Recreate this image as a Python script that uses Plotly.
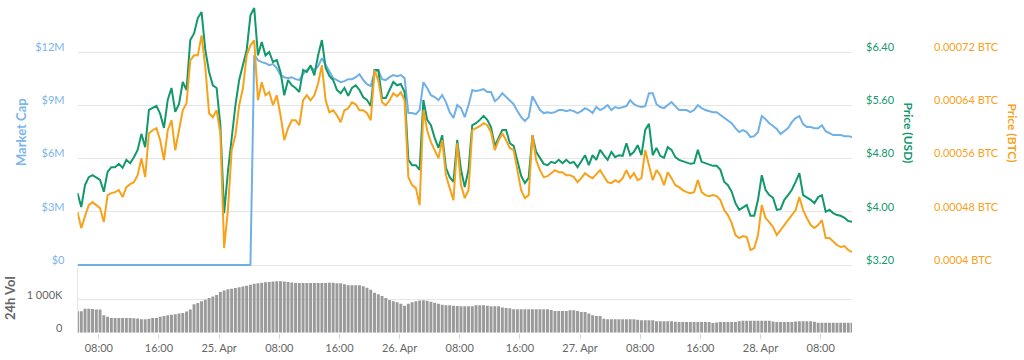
import pandas as pd
import plotly.graph_objects as go

# ---------------- data ----------------
start_time = "2018-04-24 05:10"
n_points = 207
step = "30min"

price_usd = [
    4.28, 4.07, 4.40, 4.52, 4.55, 4.52, 4.48, 4.30, 4.60, 4.67,
    4.67, 4.72, 4.66, 4.78, 4.73, 4.82, 4.93, 5.17, 4.97, 5.53,
    5.56, 5.59, 5.47, 5.26, 5.68, 5.86, 5.50, 5.62, 5.95, 5.83,
    6.58, 6.68, 6.91, 7.00, 6.43, 6.10, 5.90, 5.86, 5.30, 3.98,
    4.60, 5.08, 5.60, 5.98, 6.20, 6.43, 6.95, 7.06, 6.35, 6.55,
    6.35, 6.40, 6.25, 6.28, 6.10, 5.75, 5.98, 5.90, 5.86, 5.80,
    6.13, 6.10, 6.20, 6.05, 6.35, 6.58, 6.16, 6.04, 5.98, 5.83,
    5.78, 5.86, 5.74, 5.86, 5.90, 5.83, 5.72, 5.68, 5.59, 6.13,
    6.13, 5.71, 5.71, 5.83, 5.95, 5.90, 5.92, 5.80, 4.78, 4.70,
    4.70, 4.63, 5.68, 5.38, 5.30, 5.11, 4.96, 5.15, 4.66, 4.52,
    4.45, 5.08, 4.63, 4.37, 4.63, 5.30, 5.33, 5.38, 5.44, 5.38,
    5.27, 4.99, 5.11, 5.23, 5.23, 5.03, 4.99, 4.78, 4.54, 4.43,
    4.51, 5.15, 4.90, 4.81, 4.72, 4.70, 4.75, 4.73, 4.78, 4.73,
    4.78, 4.73, 4.75, 4.67, 4.76, 4.85, 4.70, 4.85, 4.78, 4.93,
    4.85, 4.78, 4.90, 4.82, 4.85, 4.84, 5.03, 4.85, 4.90, 5.00,
    4.85, 5.23, 5.32, 4.85, 4.96, 4.84, 4.81, 4.97, 4.93, 4.82,
    4.78, 4.76, 4.73, 4.72, 4.73, 4.93, 4.75, 4.73, 4.70, 4.69,
    4.69, 4.63, 4.45, 4.40, 4.30, 4.13, 4.03, 4.07, 4.10, 3.94,
    3.94, 4.18, 4.55, 4.33, 4.25, 4.21, 4.03, 4.04, 4.18, 4.25,
    4.33, 4.45, 4.58, 4.25, 4.22, 4.18, 4.13, 4.22, 4.25, 4.00,
    4.03, 3.98, 3.95, 3.94, 3.91, 3.86, 3.85,
]

price_btc = [
    0.0004795, 0.0004555, 0.0004735, 0.00049, 0.0004945, 0.00049, 0.0004855, 0.0004645, 0.000505, 0.000508,
    0.0005095, 0.0005125, 0.000502, 0.000517, 0.0005215, 0.0005245, 0.000535, 0.0005605, 0.000532, 0.000598,
    0.0006025, 0.0006055, 0.0005875, 0.0005575, 0.0006025, 0.0006175, 0.0005725, 0.0006025, 0.0006325, 0.000643,
    0.0007075, 0.000715, 0.000715, 0.000745, 0.000697, 0.000628, 0.000622, 0.0006325, 0.000598, 0.0004255,
    0.0004825, 0.0005725, 0.000595, 0.00064, 0.0006655, 0.000715, 0.00073, 0.0007375, 0.0006475, 0.0006745,
    0.000655, 0.0006595, 0.00064, 0.000655, 0.000625, 0.0005875, 0.0006055, 0.0006175, 0.0006175, 0.00061,
    0.0006475, 0.000655, 0.0006475, 0.000655, 0.000673, 0.0007, 0.0006475, 0.0006295, 0.0006325, 0.000625,
    0.0006145, 0.0006325, 0.0006355, 0.0006445, 0.0006415, 0.0006325, 0.0006325, 0.000628, 0.0006175, 0.0006925,
    0.0006775, 0.0006445, 0.00064, 0.0006475, 0.000658, 0.0006535, 0.0006595, 0.0006475, 0.000532, 0.00052,
    0.0005155, 0.00049, 0.0006325, 0.0006025, 0.0005845, 0.0005725, 0.0005605, 0.0005875, 0.000535, 0.0005155,
    0.0004975, 0.000583, 0.00052, 0.0005005, 0.0005125, 0.0006025, 0.0006055, 0.0006085, 0.000613, 0.00061,
    0.0005995, 0.0005725, 0.0005875, 0.000598, 0.0005875, 0.0005755, 0.0005725, 0.0005425, 0.0005125, 0.0005005,
    0.000505, 0.000595, 0.0005575, 0.0005425, 0.000532, 0.0005335, 0.000538, 0.0005425, 0.0005395, 0.0005395,
    0.000535, 0.000535, 0.000532, 0.0005245, 0.0005305, 0.000538, 0.0005335, 0.0005305, 0.0005365, 0.0005425,
    0.0005335, 0.0005245, 0.000523, 0.0005275, 0.0005245, 0.0005305, 0.0005425, 0.0005305, 0.000538, 0.0005275,
    0.0005305, 0.0005725, 0.00055, 0.0005275, 0.0005425, 0.000535, 0.00052, 0.0005395, 0.0005305, 0.00052,
    0.000517, 0.0005125, 0.0005095, 0.000508, 0.0005095, 0.0005275, 0.0005095, 0.000505, 0.0005035, 0.000505,
    0.0005035, 0.0004975, 0.0004825, 0.000475, 0.000463, 0.000445, 0.0004405, 0.0004435, 0.000442, 0.0004225,
    0.0004255, 0.000445, 0.00049, 0.0004705, 0.0004645, 0.000457, 0.000445, 0.0004525, 0.00046, 0.0004675,
    0.000475, 0.0004825, 0.000502, 0.0004825, 0.0004705, 0.00046, 0.0004555, 0.00046, 0.0004675, 0.0004405,
    0.0004405, 0.0004345, 0.00043, 0.000427, 0.0004285, 0.0004225, 0.0004195,
]

market_cap_musd = [0.0] * 47 + [
    11.82, 11.54, 11.43, 11.37, 11.26, 11.32, 11.09, 10.70, 10.58, 10.53,
    10.58, 10.47, 10.42, 10.75, 10.98, 11.15, 10.98, 11.20, 11.65, 11.26,
    10.87, 10.53, 10.42, 10.30, 10.36, 10.47, 10.47, 10.58, 10.75, 10.42,
    10.19, 10.08, 10.87, 10.98, 10.47, 10.42, 10.58, 10.70, 10.64, 10.70,
    10.53, 8.56, 8.56, 8.50, 8.73, 10.30, 9.97, 9.57, 9.46, 9.29,
    9.57, 9.18, 8.61, 8.28, 9.01, 8.84, 8.33, 9.01, 9.85, 9.80,
    9.85, 9.91, 9.74, 9.74, 9.23, 9.40, 9.68, 9.46, 9.23, 9.06,
    8.67, 8.33, 8.11, 8.33, 9.51, 9.12, 8.73, 8.56, 8.61, 8.56,
    8.61, 8.73, 8.73, 8.67, 8.73, 8.67, 8.56, 8.67, 8.84, 8.73,
    8.56, 8.90, 8.73, 8.84, 9.01, 8.73, 8.90, 8.84, 8.90, 8.95,
    9.29, 9.06, 8.95, 8.90, 8.95, 9.68, 9.68, 9.06, 8.90, 8.84,
    9.01, 9.18, 8.95, 8.73, 8.73, 8.73, 8.61, 8.73, 9.01, 8.84,
    8.73, 8.67, 8.61, 8.61, 8.45, 8.28, 8.16, 7.99, 7.71, 7.49,
    7.60, 7.49, 7.21, 7.26, 7.49, 8.39, 8.22, 7.99, 7.83, 7.66,
    7.38, 7.54, 7.71, 8.05, 8.28, 8.39, 7.94, 7.77, 7.77, 7.71,
    7.71, 7.88, 7.54, 7.43, 7.32, 7.32, 7.32, 7.26, 7.26, 7.21,
]

volume_k = [
    648, 648, 727, 727, 715, 700, 700, 527, 480, 445,
    445, 445, 445, 445, 445, 440, 430, 405, 405, 420,
    445, 445, 480, 505, 527, 545, 560, 580, 600, 640,
    700, 860, 900, 950, 1000, 1050, 1100, 1140, 1230, 1280,
    1315, 1330, 1355, 1380, 1400, 1425, 1450, 1480, 1500, 1515,
    1525, 1536, 1550, 1557, 1557, 1550, 1536, 1520, 1505, 1505,
    1505, 1505, 1505, 1505, 1505, 1505, 1505, 1510, 1515, 1495,
    1495, 1470, 1436, 1436, 1436, 1436, 1410, 1360, 1300, 1210,
    1163, 1110, 1050, 990, 950, 920, 880, 815, 880, 920,
    950, 975, 980, 970, 940, 910, 880, 850, 835, 830,
    815, 810, 800, 800, 800, 800, 830, 830, 830, 815,
    800, 800, 800, 760, 748, 740, 708, 708, 708, 708,
    708, 708, 708, 708, 708, 708, 690, 657, 657, 657,
    657, 677, 677, 660, 627, 627, 580, 527, 505, 505,
    425, 405, 405, 405, 405, 405, 405, 405, 405, 390,
    375, 375, 375, 375, 345, 345, 345, 345, 345, 330,
    325, 325, 325, 325, 325, 325, 325, 325, 325, 295,
    310, 325, 325, 325, 325, 325, 345, 365, 365, 365,
    365, 365, 365, 365, 365, 340, 325, 325, 325, 325,
    325, 340, 345, 345, 345, 345, 330, 305, 305, 305,
    305, 305, 305, 305, 305, 305, 305,
]

x_tick_times = pd.date_range("2018-04-24 08:00", "2018-04-28 08:00", freq="8h")
x_tick_labels = ["08:00", "16:00", "25. Apr", "08:00", "16:00", "26. Apr", "08:00",
                 "16:00", "27. Apr", "08:00", "16:00", "28. Apr", "08:00"]

mcap_ticks = [0, 3, 6, 9, 12]
mcap_labels = ["$0", "$3M", "$6M", "$9M", "$12M"]
usd_ticks = [3.2, 4.0, 4.8, 5.6, 6.4]
usd_labels = ["$3.20", "$4.00", "$4.80", "$5.60", "$6.40"]
btc_ticks = [0.0004, 0.00048, 0.00056, 0.00064, 0.00072]
btc_labels = ["0.0004 BTC", "0.00048 BTC", "0.00056 BTC", "0.00064 BTC", "0.00072 BTC"]
vol_ticks = [0, 1000]
vol_labels = ["0", "1 000K"]

times = pd.date_range(start_time, periods=n_points, freq=step)

# ---------------- styling ----------------
W, H = 1024, 360
FONT = "Lato"
BLUE = "#6fb1e6"
BLUE_TXT = "#7cb5ec"
GREEN = "#12996b"
ORANGE = "#f7a21b"
GRID = "#e6e6e6"
LABEL_SHIFT = -5

px_left, px_right = 77.5, 852.0
main_top, main_bottom = 0.0, 266.8
vol_top, vol_bottom = 268.0, 332.7

def py(p):
    return 1 - p / H

fig = go.Figure()

fig.add_trace(go.Bar(x=times, y=volume_k, xaxis="x", yaxis="y4",
                     marker=dict(color="#9a9a9a", line=dict(width=0)),
                     showlegend=False, hoverinfo="skip"))
fig.add_trace(go.Scatter(x=times, y=market_cap_musd, xaxis="x2", yaxis="y",
                         mode="lines", line=dict(color=BLUE, width=2),
                         showlegend=False))
fig.add_trace(go.Scatter(x=times, y=price_usd, xaxis="x2", yaxis="y2",
                         mode="lines", line=dict(color=GREEN, width=2),
                         showlegend=False))
fig.add_trace(go.Scatter(x=times, y=price_btc, xaxis="x2", yaxis="y3",
                         mode="lines", line=dict(color=ORANGE, width=2),
                         showlegend=False))

xdom = [px_left / W, px_right / W]
xrange = [times[0], times[-1]]

fig.update_layout(
    width=W, height=H, autosize=False,
    margin=dict(l=0, r=0, t=0, b=0),
    paper_bgcolor="white", plot_bgcolor="white",
    font=dict(family=FONT, size=11, color="#666666"),
    bargap=0.22,
    xaxis=dict(domain=xdom, anchor="y4", range=xrange, type="date",
               tickvals=list(x_tick_times), ticktext=x_tick_labels,
               ticks="outside", ticklen=5, tickcolor="#ccd6eb",
               tickfont=dict(size=11, color="#666666"),
               showgrid=False, zeroline=False, showline=False),
    xaxis2=dict(domain=xdom, anchor="y", matches="x", range=xrange, type="date",
                showticklabels=False, showgrid=False, zeroline=False, ticks=""),
    yaxis=dict(domain=[py(main_bottom), py(main_top)], anchor="x2",
               range=[-0.1, 265 / 17.75],
               tickvals=mcap_ticks, ticktext=mcap_labels,
               tickfont=dict(size=11, color=BLUE_TXT),
               ticks="", ticklabelstandoff=12, ticklabelshift=LABEL_SHIFT,
               showgrid=True, gridcolor=GRID, gridwidth=1, zeroline=False),
    yaxis2=dict(overlaying="y", side="right", anchor="x2",
                range=[3.2 - 1.775 / 66.5625, 3.2 + 265 / 66.5625],
                tickvals=usd_ticks, ticktext=usd_labels,
                tickfont=dict(size=11, color=GREEN),
                ticks="", ticklabelstandoff=13, ticklabelshift=LABEL_SHIFT,
                showgrid=False, zeroline=False),
    yaxis3=dict(overlaying="y", side="right", anchor="free", position=931 / W,
                range=[0.0004 - 1.775 / 53.25 * 0.00008, 0.0004 + 265 / 53.25 * 0.00008],
                tickvals=btc_ticks, ticktext=btc_labels,
                tickfont=dict(size=11, color=ORANGE),
                ticks="", ticklabelstandoff=2, ticklabelshift=LABEL_SHIFT,
                showgrid=False, zeroline=False, showline=False),
    yaxis4=dict(domain=[py(vol_bottom), py(vol_top)], anchor="x",
                range=[0, (vol_bottom - vol_top) / 33 * 1000],
                tickvals=vol_ticks, ticktext=vol_labels,
                tickfont=dict(size=11, color="#666666"),
                ticks="", ticklabelstandoff=12, ticklabelshift=LABEL_SHIFT,
                showgrid=True, gridcolor=GRID, zeroline=False,
                showline=True, linecolor="#e6e6e6", linewidth=1),
)

annotations = [
    dict(text="<b>Market Cap</b>", x=20.5 / W, y=py(132.5), textangle=-90,
         font=dict(size=13, color=BLUE_TXT, family=FONT)),
    dict(text="<b>24h Vol</b>", x=10 / W, y=py(298), textangle=-90,
         font=dict(size=13, color="#666666", family=FONT)),
    dict(text="<b>Price (USD)</b>", x=908 / W, y=py(132.5), textangle=90,
         font=dict(size=12, color=GREEN, family=FONT)),
    dict(text="<b>Price (BTC)</b>", x=1012 / W, y=py(132.5), textangle=90,
         font=dict(size=12, color=ORANGE, family=FONT)),
]
for a in annotations:
    fig.add_annotation(xref="paper", yref="paper", showarrow=False,
                       xanchor="center", yanchor="middle", **a)

page_fix = (
    "var s=document.createElement('style');"
    "s.innerHTML='html,body{margin:0!important;padding:0!important;width:1024px;height:360px;"
    "overflow:hidden!important;} .plotly-graph-div{display:block;}';"
    "document.head.appendChild(s);"
)

fig.write_html("out.html", config={"displayModeBar": False, "responsive": False},
               post_script=page_fix)
